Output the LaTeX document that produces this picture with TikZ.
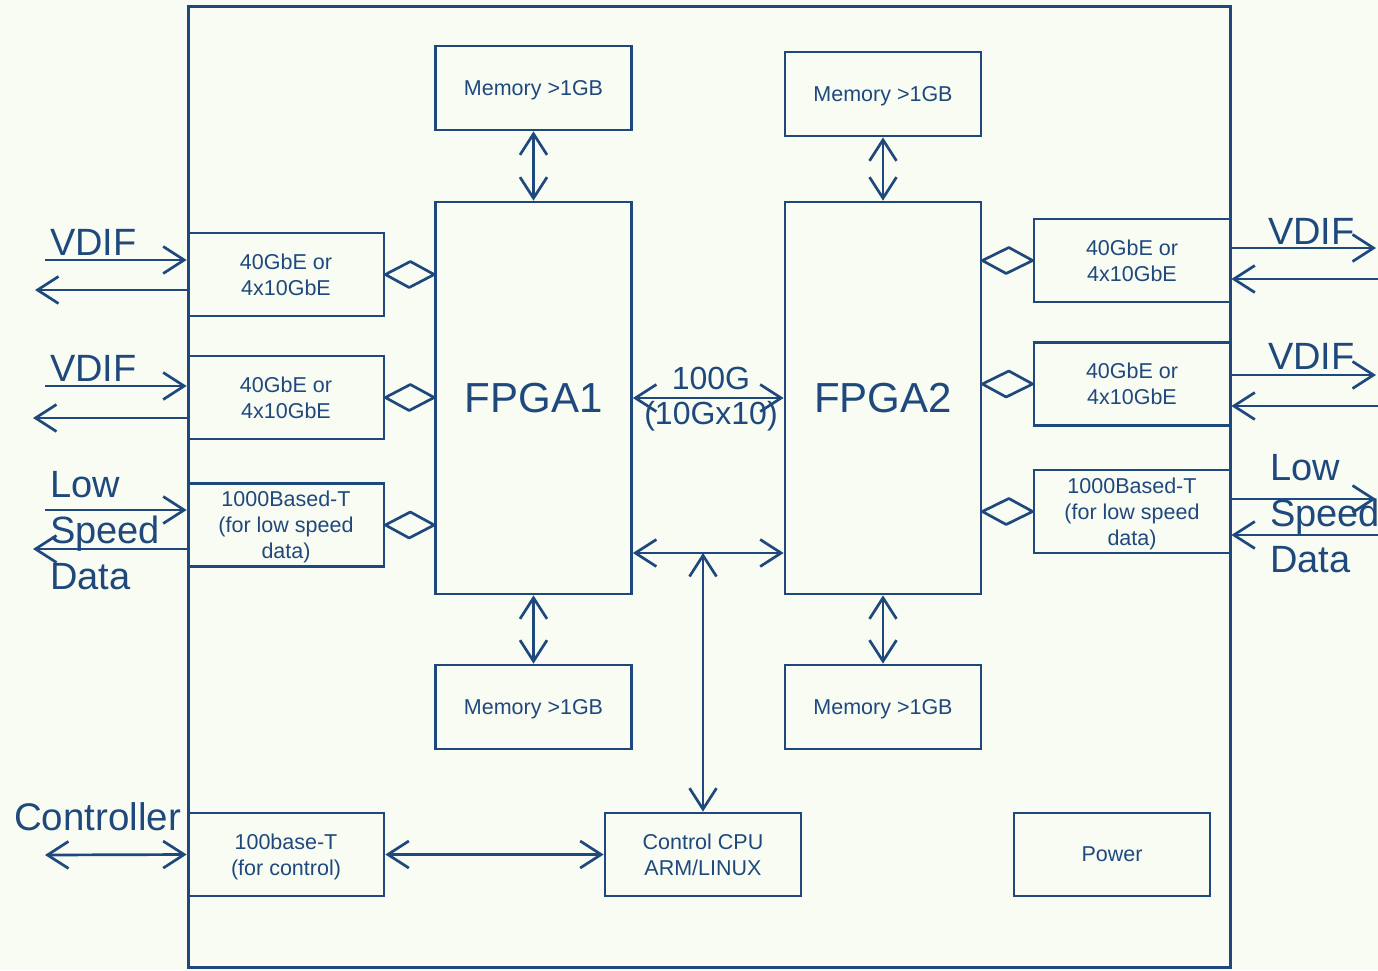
\documentclass[tikz,border=0pt]{standalone}
\usepackage{fontspec}
\setmainfont{Liberation Sans}
\usetikzlibrary{arrows.meta}
\definecolor{ln}{RGB}{31,73,125}
\definecolor{bg}{RGB}{249,252,243}
\begin{document}
\begin{tikzpicture}[x=1pt,y=-1pt,
  >={Straight Barb[length=21pt,width=27pt]},
  box/.style={draw=ln, line width=2.7pt, inner sep=0pt, minimum width=196pt, minimum height=83pt,
    align=center, text=ln, text depth=0pt, font=\fontsize{21.5}{26}\selectfont},
  fpgabox/.style={box, minimum height=392pt, font=\fontsize{42}{50}\selectfont},
  link/.style={draw=ln, line width=2.7pt},
  dia/.style={draw=ln, line width=2.7pt, line join=round},
  lbl/.style={text=ln, inner sep=0pt, font=\fontsize{38}{46}\selectfont},
  mid/.style={text=ln, inner sep=0pt, font=\fontsize{32}{38}\selectfont}]
\fill[bg] (0,0) rectangle (1378,970);
\useasboundingbox (0,0) rectangle (1378,970);
\draw[ln, line width=3pt] (188,6) rectangle (1230,967);

% memories and FPGAs
\node[box, minimum height=84pt] (mem1) at (533.5,88) {Memory >1GB};
\node[box, minimum height=84pt] (mem2) at (883,94) {Memory >1GB};
\node[fpgabox] (fpga1) at (533.5,398) {FPGA1};
\node[fpgabox] (fpga2) at (883,398) {FPGA2};
\node[box, minimum height=84pt] (mem3) at (533.5,707) {Memory >1GB};
\node[box, minimum height=84pt] (mem4) at (883,707) {Memory >1GB};

% left interfaces
\node[box] (L1) at (286,274.5) {40GbE or\\4x10GbE};
\node[box] (L2) at (286,397.5) {40GbE or\\4x10GbE};
\node[box] (L3) at (286,525) {1000Based-T\\(for low speed\\data)};
% right interfaces
\node[box] (R1) at (1132,260.5) {40GbE or\\4x10GbE};
\node[box] (R2) at (1132,384) {40GbE or\\4x10GbE};
\node[box] (R3) at (1132,511.5) {1000Based-T\\(for low speed\\data)};
% bottom
\node[box] (eth) at (286,854.5) {100base-T\\(for control)};
\node[box] (cpu) at (703,854.5) {Control CPU\\ARM/LINUX};
\node[box] (power) at (1112,854.5) {Power};

% memory links
\draw[link,<->] (mem1.south) -- (fpga1.north);
\draw[link,<->] (mem2.south) -- (fpga2.north);
\draw[link,<->] (fpga1.south) -- (mem3.north);
\draw[link,<->] (fpga2.south) -- (mem4.north);

% 100G link
\draw[link,<->] (fpga1.east) -- (fpga2.west);
\node[mid] (g100) at (711,378) {100G};
\node[mid] (g10x) at (711,416) {(10Gx10)};

% bus to CPU
\coordinate (busc) at (703,553);
\draw[link,<->] (fpga1.east |- busc) -- (fpga2.west |- busc);
\draw[link,<->] (busc) -- (cpu.north);
\draw[link,<->] (eth.east) -- (cpu.west);

% diamonds
\foreach \b in {L1,L2,L3}{
  \draw[dia] (\b.east) -- ++(25,-13) -- (fpga1.west |- \b.east) -- ++(-25,13) -- cycle;
}
\foreach \b in {R1,R2,R3}{
  \draw[dia] (fpga2.east |- \b.west) -- ++(26.5,-13) -- (\b.west) -- ++(-26.5,13) -- cycle;
}

% left external arrows
\coordinate (l1i) at (45,260);  \coordinate (l1o) at (35,290);
\coordinate (l2i) at (45,386);  \coordinate (l2o) at (33,418);
\coordinate (l3i) at (45,510);  \coordinate (l3o) at (33,549);
\draw[link,->] (l1i) -- (L1.west |- l1i);
\draw[link,->] (L1.west |- l1o) -- (l1o);
\draw[link,->] (l2i) -- (L2.west |- l2i);
\draw[link,->] (L2.west |- l2o) -- (l2o);
\draw[link,->] (l3i) -- (L3.west |- l3i);
\draw[link,->] (L3.west |- l3o) -- (l3o);

% right external arrows
\coordinate (r1o) at (1376,248); \coordinate (r1i) at (1379,279);
\coordinate (r2o) at (1376,375); \coordinate (r2i) at (1379,406);
\coordinate (r3o) at (1376,499); \coordinate (r3i) at (1379,535);
\draw[link,->] (R1.east |- r1o) -- (r1o);
\draw[link,->] (r1i) -- (R1.east |- r1i);
\draw[link,->] (R2.east |- r2o) -- (r2o);
\draw[link,->] (r2i) -- (R2.east |- r2i);
\draw[link,->] (R3.east |- r3o) -- (r3o);
\draw[link,->] (r3i) -- (R3.east |- r3i);

% controller
\coordinate (ctrl) at (45,855);
\draw[link,<->] (ctrl) -- (eth.west);

% labels
\node[lbl, anchor=west] (vl1) at (50,242) {VDIF};
\node[lbl, anchor=west] (vl2) at (50,368) {VDIF};
\node[lbl, anchor=west, align=left] (lsl) at (50,531) {Low\\Speed\\Data};
\node[lbl, anchor=west] (vr1) at (1268,231) {VDIF};
\node[lbl, anchor=west] (vr2) at (1268,356) {VDIF};
\node[lbl, anchor=west, align=left] (lsr) at (1270,514) {Low\\Speed\\Data};
\node[lbl, anchor=west, font=\fontsize{38.5}{44}\selectfont] (ctl) at (14,817) {Controller};
\end{tikzpicture}
\end{document}
